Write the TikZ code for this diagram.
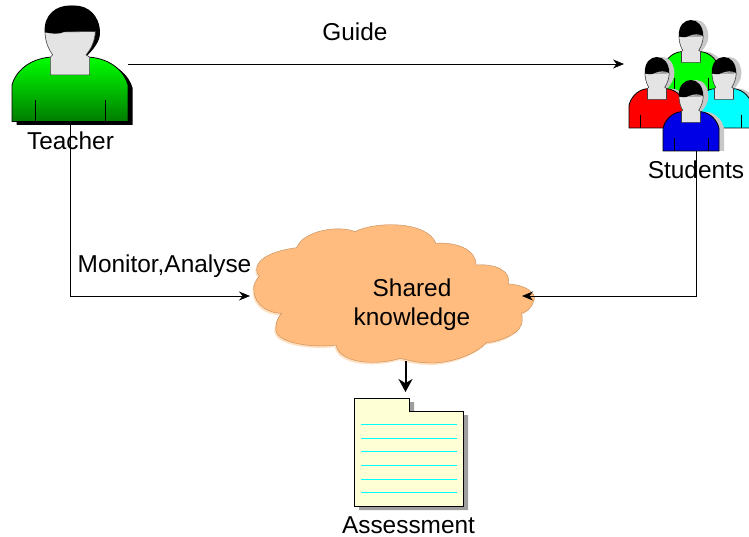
\documentclass[tikz,border=0pt]{standalone}
\usepackage{fontspec}
\setmainfont{Liberation Sans}
\usetikzlibrary{arrows.meta}
\definecolor{peach}{HTML}{FFBC7E}
\definecolor{peachedge}{HTML}{C08A5A}
\definecolor{peachshadow}{HTML}{FFE0C0}
\definecolor{docfill}{HTML}{FFFFD6}
\definecolor{facegray}{HTML}{E4E4E4}
\definecolor{softshadow}{HTML}{C8C8C8}
\definecolor{purecyan}{HTML}{00FFFF}
\definecolor{puregreen}{HTML}{00FF00}
\definecolor{darkgreen}{HTML}{007C00}
\definecolor{purered}{HTML}{FF0000}
\definecolor{pureblue}{HTML}{0000E6}
\tikzset{
  x=1pt,y=-1pt,
  lbl/.style={font=\fontsize{24.4}{29}\selectfont,inner sep=0pt,align=center},
  conn/.style={line width=0.8pt,-{Stealth[length=11pt,width=9pt]}},
  heavyconn/.style={line width=2pt,-{Stealth[length=13pt,width=14pt]}},
  outline/.style={draw=black,line width=0.8pt},
  faceline/.style={draw=black!75,line width=0.6pt},
  rule/.style={purecyan,line width=0.9pt},
}
% #1 origin x, #2 origin y, #3 xscale, #4 yscale, #5 body fill options, #6 shadow colour, #7 dx, #8 dy
\newcommand{\personfig}[8]{%
  \begin{scope}[shift={(#1,#2)},xscale=#3,yscale=#4]
    \begin{scope}[shift={(#7,#8)}]
      \fill[#6] (0,238) .. controls (10,200) and (50,160) .. (115,155) -- (233,155)
        .. controls (298,160) and (338,200) .. (348,238) -- (348,348) -- (0,348) -- cycle;
    \end{scope}
    \begin{scope}[shift={(#7,0)}]
      \fill[#6] (98,80) .. controls (95,25) and (135,0) .. (173,0)
        .. controls (215,0) and (250,30) .. (250,83)
        .. controls (250,110) and (227,135) .. (207,155) -- (110,155) -- cycle;
    \end{scope}
    \path[outline,#5] (0,238) .. controls (10,200) and (50,160) .. (115,155) -- (233,155)
        .. controls (298,160) and (338,200) .. (348,238) -- (348,348) -- (0,348) -- cycle;
    \draw[line width=0.8pt] (70,283) -- (70,348) (280,283) -- (280,348);
    \path[fill=facegray,faceline] (99,80) .. controls (100,112) and (112,135) .. (122,148) -- (115,155)
        -- (115,208) -- (233,208) -- (233,155) -- (222,148) .. controls (238,130) and (249,105) .. (250,78) -- cycle;
    \fill[black] (98,80) .. controls (95,25) and (135,0) .. (173,0)
        .. controls (215,0) and (250,30) .. (250,78)
        .. controls (225,68) and (190,68) .. (160,78)
        .. controls (140,88) and (120,85) .. (98,80) -- cycle;
  \end{scope}%
}
\begin{document}
\begin{tikzpicture}
\useasboundingbox (0,0) rectangle (749,537);

% Teacher
\personfig{12}{5.5}{0.3333}{0.3333}{top color=puregreen,bottom color=darkgreen}{black}{14}{10}
\node[inner sep=0pt,minimum width=116pt,minimum height=117pt] (teacher) at (70,64) {};

% Students
\personfig{663}{20}{0.161}{0.204}{fill=puregreen}{softshadow}{32}{0}
\personfig{629}{57}{0.161}{0.204}{fill=purered}{softshadow}{32}{0}
\personfig{696}{57}{0.161}{0.204}{fill=purecyan}{softshadow}{32}{0}
\personfig{663}{80}{0.161}{0.204}{fill=pureblue}{softshadow}{32}{0}
\coordinate (guideend) at (624,64);
\coordinate (studentsout) at (696,151);

% Cloud
\begin{scope}[shift={(240,210)},scale=0.3333]
  \def\cloudpath{(42,245) .. controls (38,225) and (48,210) .. (58,198)
    .. controls (40,180) and (42,130) .. (170,113)
    .. controls (190,60) and (300,45) .. (345,65)
    .. controls (400,35) and (560,30) .. (588,100)
    .. controls (640,95) and (710,115) .. (708,165)
    .. controls (770,160) and (815,185) .. (805,222)
    .. controls (860,225) and (890,250) .. (882,272)
    .. controls (875,295) and (860,305) .. (845,310)
    .. controls (850,335) and (845,355) .. (825,368)
    .. controls (800,385) and (770,395) .. (740,398)
    .. controls (700,440) and (610,465) .. (555,458)
    .. controls (530,458) and (505,450) .. (480,445)
    .. controls (420,465) and (300,465) .. (288,405)
    .. controls (220,415) and (95,400) .. (108,350)
    .. controls (108,335) and (115,320) .. (125,310)
    .. controls (85,310) and (45,285) .. (42,245) -- cycle}
  \fill[peachshadow,shift={(-4,6)}] \cloudpath;
  \path[fill=peach,draw=peachedge,line width=0.4pt] \cloudpath;
\end{scope}
\node[inner sep=0pt,minimum width=280pt,minimum height=140pt] (cloud) at (390,292) {};
\node[lbl] (sharedlbl) at (412,304.5) {Shared\\knowledge};

% Assessment document
\fill[black!38,shift={(5,4)}] (354,398) -- (409,398) -- (409,411) -- (463,411) -- (463,506) -- (354,506) -- cycle;
\path[outline,fill=docfill] (354,398) -- (409,398) -- (409,411) -- (463,411) -- (463,506) -- (354,506) -- cycle;
\foreach \yy in {424.3,438.3,451.7,465.3,479,492.7}
  \draw[rule] (361,\yy) -- (457,\yy);
\coordinate (docin) at (405.5,392);
\coordinate (cloudout) at (405.5,361);

% Labels
\node[lbl] (guidelbl) at (355,32) {Guide};
\node[lbl] (teacherlbl) at (70.5,141) {Teacher};
\node[lbl] (studentslbl) at (696,170) {Students};
\node[lbl] (monitorlbl) at (164.5,266) {Monitor,Analyse};
\node[lbl] (assessmentlbl) at (408.5,525) {Assessment};

% Connectors
\coordinate (cloudwest) at (250,296);
\coordinate (cloudeast) at (522,296);
\draw[conn] (teacher.east) -- (guideend);
\draw[conn] (teacher.south) |- (cloudwest);
\draw[conn] (studentsout) |- (cloudeast);
\draw[heavyconn] (cloudout) -- (docin);
\end{tikzpicture}
\end{document}
